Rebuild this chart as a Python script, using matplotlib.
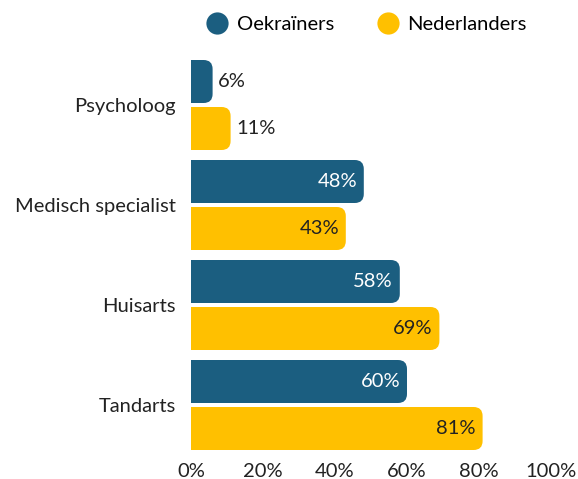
import matplotlib.pyplot as plt
from matplotlib.lines import Line2D
from matplotlib.patches import FancyBboxPatch

plt.rcParams["font.family"] = ["Lato", "DejaVu Sans"]

categories = ["Psycholoog", "Medisch specialist", "Huisarts", "Tandarts"]
oekrainers = [6, 48, 58, 60]
nederlanders = [11, 43, 69, 81]
series_names = ["Oekraïners", "Nederlanders"]
xticks = [0, 20, 40, 60, 80, 100]

BLUE = "#1b5e80"
YELLOW = "#ffc000"
DARK = "#222222"
FS = 14.5

W, H = 578, 479
X0, X1 = 191, 551
fig = plt.figure(figsize=(W / 100, H / 100), dpi=100)
ax = fig.add_axes([X0 / W, 1 - 455 / H, (X1 - X0) / W, 400 / H])
ax.set_xlim(0, 100)
ax.set_ylim(3.5, -0.5)

bh = 0.43
off = 0.235
# data units per pixel, used to keep the corner rounding circular
x_per_px = 100 / (X1 - X0)
y_per_px = 4 / 400
aspect = y_per_px / x_per_px
r = 9 * x_per_px

for vals, color, sign, txtcol in [
    (oekrainers, BLUE, -1, "white"),
    (nederlanders, YELLOW, 1, DARK),
]:
    for i, v in enumerate(vals):
        y0 = i + sign * off - bh / 2
        patch = FancyBboxPatch(
            (-15, y0), v + 15, bh,
            boxstyle=f"round,pad=0,rounding_size={r}",
            mutation_aspect=aspect,
            facecolor=color, edgecolor="none",
        )
        ax.add_patch(patch)
        yc = i + sign * off
        if v >= 20:
            ax.text(v - 1.9, yc, f"{v}%", ha="right", va="center",
                    color=txtcol, fontsize=FS)
        else:
            ax.text(v + 1.5, yc, f"{v}%", ha="left", va="center",
                    color=DARK, fontsize=FS)

ax.set_yticks(range(len(categories)))
ax.set_yticklabels(categories, fontsize=FS, color=DARK)
ax.set_xticks(xticks)
ax.set_xticklabels([f"{t}%" for t in xticks], fontsize=FS, color=DARK)
ax.tick_params(length=0)
ax.tick_params(axis="y", pad=11)
ax.tick_params(axis="x", pad=6)
for s in ax.spines.values():
    s.set_visible(False)

handles = [
    Line2D([], [], marker="o", linestyle="none", markersize=16,
           markerfacecolor=c, markeredgecolor="none")
    for c in (BLUE, YELLOW)
]
fig.legend(handles, series_names, loc="center", ncol=2,
           bbox_to_anchor=(366 / W, 1 - 24 / H), frameon=False,
           fontsize=FS, handletextpad=0.35, columnspacing=2.1,
           handlelength=1.2)

fig.savefig("out.png", dpi=100)
